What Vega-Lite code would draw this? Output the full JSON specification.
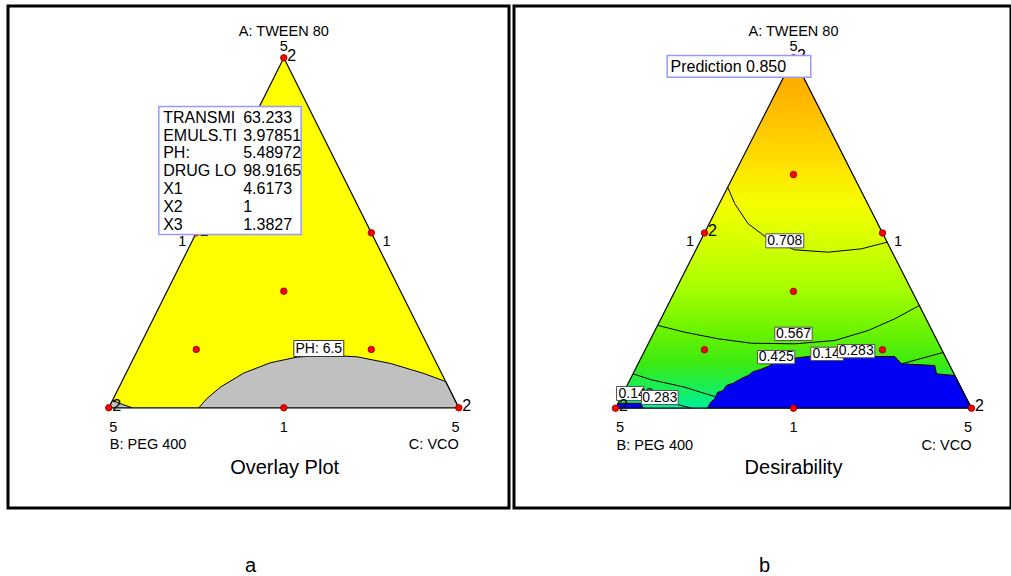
{
  "$schema": "https://vega.github.io/schema/vega-lite/v6.json",
  "padding": {"left": 6, "top": 4, "right": 0, "bottom": 0},
  "spacing": 1,
  "background": "white",
  "config": {
    "view": {"stroke": "black", "strokeWidth": 3},
    "axis": {"disable": true},
    "font": "Liberation Sans",
    "text": {"font": "Liberation Sans", "color": "black", "baseline": "middle"}
  },
  "datasets": {
    "tri": [{"x": 0, "y": 0}, {"x": 0.5, "y": 1}, {"x": 1, "y": 0}],
    "edge": [{"i": 0, "x": 0, "y": 0}, {"i": 1, "x": 0.5, "y": 1}, {"i": 2, "x": 1, "y": 0}, {"i": 3, "x": 0, "y": 0}],
    "design": [
      {"x": 0.5, "y": 1}, {"x": 0, "y": 0}, {"x": 1, "y": 0}, {"x": 0.25, "y": 0.5}, {"x": 0.75, "y": 0.5},
      {"x": 0.5, "y": 0}, {"x": 0.5, "y": 0.3333}, {"x": 0.5, "y": 0.6667}, {"x": 0.25, "y": 0.1667}, {"x": 0.75, "y": 0.1667}
    ],
    "reps": [{"x": 0.5, "y": 1, "t": "2"}, {"x": 0, "y": 0, "t": "2"}, {"x": 1, "y": 0, "t": "2"}, {"x": 0.25, "y": 0.5, "t": "2"}],
    "centerLabels": [
      {"x": 0.5, "y": 1.0731, "t": "A: TWEEN 80"},
      {"x": 0.5, "y": 1.0303, "t": "5"},
      {"x": 0.2097, "y": 0.4731, "t": "1"},
      {"x": 0.7934, "y": 0.4731, "t": "1"},
      {"x": 0.0126, "y": -0.0571, "t": "5"},
      {"x": 0.5, "y": -0.0571, "t": "1"},
      {"x": 0.9906, "y": -0.0571, "t": "5"}
    ],
    "labB": [{"x": 0.0029, "y": -0.1077, "t": "B: PEG 400"}],
    "labC": [{"x": 1, "y": -0.1077, "t": "C: VCO"}],
    "titleA": [{"x": 0.5023, "y": -0.1706, "t": "Overlay Plot"}],
    "titleB": [{"x": 0.5, "y": -0.1692, "t": "Desirability"}],
    "grayA": [
      {"g": "main", "x": 0.2571, "y": 0}, {"g": "main", "x": 0.2806, "y": 0.0266}, {"g": "main", "x": 0.3186, "y": 0.0589},
      {"g": "main", "x": 0.3854, "y": 0.0991}, {"g": "main", "x": 0.4614, "y": 0.1287}, {"g": "main", "x": 0.5383, "y": 0.1449},
      {"g": "main", "x": 0.624, "y": 0.1504}, {"g": "main", "x": 0.7097, "y": 0.1456}, {"g": "main", "x": 0.8049, "y": 0.1267},
      {"g": "main", "x": 0.9, "y": 0.0981}, {"g": "main", "x": 0.9625, "y": 0.075}, {"g": "main", "x": 1, "y": 0},
      {"g": "corner", "x": 0, "y": 0}, {"g": "corner", "x": 0.0105, "y": 0.021}, {"g": "corner", "x": 0.03, "y": 0.013}, {"g": "corner", "x": 0.0669, "y": 0}
    ],
    "boxPH": [{"x": 0.5286, "x2": 0.6714, "y": 0.1466, "y2": 0.1923}],
    "textPH": [{"x": 0.6, "y": 0.1694, "t": "PH: 6.5"}],
    "boxTip": [{"x": 0.1429, "x2": 0.5497, "y": 0.4951, "y2": 0.8609}],
    "tip": [
      {"x": 0.1554, "y": 0.8286, "k": "TRANSMI", "v": "63.233"},
      {"x": 0.1554, "y": 0.776, "k": "EMULS.TI", "v": "3.97851"},
      {"x": 0.1554, "y": 0.7274, "k": "PH:", "v": "5.48972"},
      {"x": 0.1554, "y": 0.676, "k": "DRUG LO", "v": "98.9165"},
      {"x": 0.1554, "y": 0.6257, "k": "X1", "v": "4.6173"},
      {"x": 0.1554, "y": 0.5731, "k": "X2", "v": "1"},
      {"x": 0.1554, "y": 0.5209, "k": "X3", "v": "1.3827"}
    ],
    "blueB": [
      {"g": "main", "x": 0.2584, "y": 0}, {"g": "main", "x": 0.2669, "y": 0.0163}, {"g": "main", "x": 0.2789, "y": 0.0268},
      {"g": "main", "x": 0.2865, "y": 0.0448}, {"g": "main", "x": 0.3025, "y": 0.0505}, {"g": "main", "x": 0.3118, "y": 0.0648},
      {"g": "main", "x": 0.3306, "y": 0.0713}, {"g": "main", "x": 0.3539, "y": 0.0847}, {"g": "main", "x": 0.3728, "y": 0.0933},
      {"g": "main", "x": 0.3876, "y": 0.1047}, {"g": "main", "x": 0.4053, "y": 0.1096}, {"g": "main", "x": 0.4289, "y": 0.119},
      {"g": "main", "x": 0.4466, "y": 0.1304}, {"g": "main", "x": 0.4663, "y": 0.1312}, {"g": "main", "x": 0.4831, "y": 0.1418},
      {"g": "main", "x": 0.5037, "y": 0.1427}, {"g": "main", "x": 0.5413, "y": 0.1475}, {"g": "main", "x": 0.7846, "y": 0.1475},
      {"g": "main", "x": 0.7921, "y": 0.1389}, {"g": "main", "x": 0.8034, "y": 0.1267}, {"g": "main", "x": 0.8969, "y": 0.1218},
      {"g": "main", "x": 0.9017, "y": 0.0981}, {"g": "main", "x": 0.9534, "y": 0.0933}, {"g": "main", "x": 1, "y": 0},
      {"g": "corner", "x": 0, "y": 0}, {"g": "corner", "x": 0.008, "y": 0.014}, {"g": "corner", "x": 0.07, "y": 0.014}, {"g": "corner", "x": 0.078, "y": 0}
    ],
    "contB": [
      {"c": "708", "x": 0.3153, "y": 0.6305}, {"c": "708", "x": 0.3351, "y": 0.5832}, {"c": "708", "x": 0.3728, "y": 0.5261},
      {"c": "708", "x": 0.4289, "y": 0.4833}, {"c": "708", "x": 0.5037, "y": 0.4519}, {"c": "708", "x": 0.5975, "y": 0.4451},
      {"c": "708", "x": 0.691, "y": 0.4548}, {"c": "708", "x": 0.7632, "y": 0.4736},
      {"c": "567", "x": 0.1199, "y": 0.236}, {"c": "567", "x": 0.1947, "y": 0.2168}, {"c": "567", "x": 0.2885, "y": 0.198},
      {"c": "567", "x": 0.382, "y": 0.1854}, {"c": "567", "x": 0.5037, "y": 0.1837}, {"c": "567", "x": 0.616, "y": 0.1932},
      {"c": "567", "x": 0.7098, "y": 0.2217}, {"c": "567", "x": 0.7846, "y": 0.2551}, {"c": "567", "x": 0.8534, "y": 0.293},
      {"c": "425L", "x": 0.0492, "y": 0.0981}, {"c": "425L", "x": 0.1011, "y": 0.081}, {"c": "425L", "x": 0.1947, "y": 0.0599},
      {"c": "425L", "x": 0.2416, "y": 0.0448}, {"c": "425L", "x": 0.2789, "y": 0.0334},
      {"c": "425R", "x": 0.8034, "y": 0.1267}, {"c": "425R", "x": 0.9205, "y": 0.1589},
      {"c": "283L", "x": 0.1742, "y": 0.0106}, {"c": "283L", "x": 0.2135, "y": 0}
    ],
    "box14": [
      {"x": 0.5486, "x2": 0.64, "y": 0.1361, "y2": 0.174},
      {"x": 0.0028, "x2": 0.08, "y": 0.022, "y2": 0.0619}
    ],
    "text14": [
      {"x": 0.5534, "y": 0.1552, "t": "0.142"},
      {"x": 0.0084, "y": 0.0419, "t": "0.142"}
    ],
    "boxLab": [
      {"x": 0.4222, "x2": 0.5289, "y": 0.4575, "y2": 0.4976},
      {"x": 0.4475, "x2": 0.5525, "y": 0.1932, "y2": 0.2311},
      {"x": 0.3989, "x2": 0.5037, "y": 0.1267, "y2": 0.1646},
      {"x": 0.6236, "x2": 0.7284, "y": 0.1438, "y2": 0.1817},
      {"x": 0.073, "x2": 0.1761, "y": 0.0106, "y2": 0.0505}
    ],
    "textLab": [
      {"x": 0.4756, "y": 0.4776, "t": "0.708"},
      {"x": 0.5, "y": 0.2123, "t": "0.567"},
      {"x": 0.4514, "y": 0.1455, "t": "0.425"},
      {"x": 0.676, "y": 0.1626, "t": "0.283"},
      {"x": 0.1244, "y": 0.0305, "t": "0.283"}
    ],
    "boxPred": [{"x": 0.1452, "x2": 0.5486, "y": 0.9444, "y2": 1.0063}],
    "textPred": [{"x": 0.1545, "y": 0.9735, "t": "Prediction 0.850"}]
  },
  "hconcat": [
    {
      "width": 501,
      "height": 502,
      "title": {"text": "a", "orient": "bottom", "anchor": "middle", "offset": 64, "dx": -8, "fontSize": 20, "fontWeight": "normal", "font": "Liberation Sans", "color": "black", "baseline": "alphabetic"},
      "encoding": {
        "x": {"field": "x", "type": "quantitative", "scale": {"domain": [-0.288, 1.1434], "nice": false, "zero": false}},
        "y": {"field": "y", "type": "quantitative", "scale": {"domain": [-0.2863, 1.148], "nice": false, "zero": false}}
      },
      "layer": [
        {"data": {"name": "tri"}, "mark": {"type": "area", "color": "#ffff00"}, "encoding": {"y2": {"datum": 0}}},
        {"data": {"name": "grayA"}, "mark": {"type": "area", "color": "#c0c0c0"}, "encoding": {"y2": {"datum": 0}, "detail": {"field": "g"}}},
        {"data": {"name": "grayA"}, "mark": {"type": "line", "color": "black", "strokeWidth": 1}, "encoding": {"detail": {"field": "g"}}},
        {"data": {"name": "edge"}, "mark": {"type": "line", "color": "black", "strokeWidth": 1.2}, "encoding": {"order": {"field": "i", "type": "quantitative"}}},
        {"data": {"name": "design"}, "mark": {"type": "point", "filled": true, "fill": "#ff0000", "stroke": "#7a0000", "strokeWidth": 0.8, "size": 42, "opacity": 1}},
        {"data": {"name": "reps"}, "mark": {"type": "text", "fontSize": 16, "dx": 8, "dy": -2, "align": "center"}, "encoding": {"text": {"field": "t"}}},
        {"data": {"name": "centerLabels"}, "mark": {"type": "text", "fontSize": 14.5, "align": "center"}, "encoding": {"text": {"field": "t"}}},
        {"data": {"name": "labB"}, "mark": {"type": "text", "fontSize": 14.5, "align": "left"}, "encoding": {"text": {"field": "t"}}},
        {"data": {"name": "labC"}, "mark": {"type": "text", "fontSize": 14.5, "align": "right"}, "encoding": {"text": {"field": "t"}}},
        {"data": {"name": "titleA"}, "mark": {"type": "text", "fontSize": 20, "align": "center"}, "encoding": {"text": {"field": "t"}}},
        {"data": {"name": "boxPH"}, "mark": {"type": "rect", "fill": "white", "stroke": "#333333", "strokeWidth": 1}, "encoding": {"x2": {"field": "x2"}, "y2": {"field": "y2"}}},
        {"data": {"name": "textPH"}, "mark": {"type": "text", "fontSize": 14, "align": "center"}, "encoding": {"text": {"field": "t"}}},
        {"data": {"name": "boxTip"}, "mark": {"type": "rect", "fill": "white", "stroke": "#9999ff", "strokeWidth": 1.5}, "encoding": {"x2": {"field": "x2"}, "y2": {"field": "y2"}}},
        {"data": {"name": "tip"}, "mark": {"type": "text", "fontSize": 16, "align": "left"}, "encoding": {"text": {"field": "k"}}},
        {"data": {"name": "tip"}, "mark": {"type": "text", "fontSize": 16, "align": "left", "dx": 80}, "encoding": {"text": {"field": "v"}}}
      ]
    },
    {
      "width": 497,
      "height": 502,
      "title": {"text": "b", "orient": "bottom", "anchor": "middle", "offset": 64, "dx": 2, "fontSize": 20, "fontWeight": "normal", "font": "Liberation Sans", "color": "black", "baseline": "alphabetic"},
      "encoding": {
        "x": {"field": "x", "type": "quantitative", "scale": {"domain": [-0.2851, 1.111], "nice": false, "zero": false}},
        "y": {"field": "y", "type": "quantitative", "scale": {"domain": [-0.2847, 1.1475], "nice": false, "zero": false}}
      },
      "layer": [
        {"data": {"name": "tri"}, "mark": {"type": "area", "color": {"gradient": "linear", "x1": 0, "y1": 0, "x2": 0, "y2": 1, "stops": [
          {"offset": 0, "color": "#ffa000"},
          {"offset": 0.15, "color": "#ffbe00"},
          {"offset": 0.3, "color": "#ffe000"},
          {"offset": 0.42, "color": "#f4ff00"},
          {"offset": 0.52, "color": "#d8ff00"},
          {"offset": 0.65, "color": "#aaff00"},
          {"offset": 0.77, "color": "#70f400"},
          {"offset": 0.87, "color": "#3cea10"},
          {"offset": 0.95, "color": "#14ee60"},
          {"offset": 1, "color": "#00f0a0"}]}}, "encoding": {"y2": {"datum": 0}}},
        {"data": {"name": "blueB"}, "mark": {"type": "area", "color": "#0000f5"}, "encoding": {"y2": {"datum": 0}, "detail": {"field": "g"}}},
        {"data": {"name": "blueB"}, "mark": {"type": "line", "color": "black", "strokeWidth": 1}, "encoding": {"detail": {"field": "g"}}},
        {"data": {"name": "contB"}, "mark": {"type": "line", "color": "black", "strokeWidth": 1}, "encoding": {"detail": {"field": "c"}}},
        {"data": {"name": "edge"}, "mark": {"type": "line", "color": "black", "strokeWidth": 1.2}, "encoding": {"order": {"field": "i", "type": "quantitative"}}},
        {"data": {"name": "box14"}, "mark": {"type": "rect", "fill": "white", "stroke": "#555555", "strokeWidth": 1}, "encoding": {"x2": {"field": "x2"}, "y2": {"field": "y2"}}},
        {"data": {"name": "text14"}, "mark": {"type": "text", "fontSize": 14, "align": "left"}, "encoding": {"text": {"field": "t"}}},
        {"data": {"name": "boxLab"}, "mark": {"type": "rect", "fill": "white", "stroke": "#555555", "strokeWidth": 1}, "encoding": {"x2": {"field": "x2"}, "y2": {"field": "y2"}}},
        {"data": {"name": "textLab"}, "mark": {"type": "text", "fontSize": 14, "align": "center"}, "encoding": {"text": {"field": "t"}}},
        {"data": {"name": "design"}, "mark": {"type": "point", "filled": true, "fill": "#ff0000", "stroke": "#7a0000", "strokeWidth": 0.8, "size": 42, "opacity": 1}},
        {"data": {"name": "reps"}, "mark": {"type": "text", "fontSize": 16, "dx": 8, "dy": -2, "align": "center"}, "encoding": {"text": {"field": "t"}}},
        {"data": {"name": "centerLabels"}, "mark": {"type": "text", "fontSize": 14.5, "align": "center"}, "encoding": {"text": {"field": "t"}}},
        {"data": {"name": "labB"}, "mark": {"type": "text", "fontSize": 14.5, "align": "left"}, "encoding": {"text": {"field": "t"}}},
        {"data": {"name": "labC"}, "mark": {"type": "text", "fontSize": 14.5, "align": "right"}, "encoding": {"text": {"field": "t"}}},
        {"data": {"name": "titleB"}, "mark": {"type": "text", "fontSize": 20, "align": "center"}, "encoding": {"text": {"field": "t"}}},
        {"data": {"name": "boxPred"}, "mark": {"type": "rect", "fill": "white", "stroke": "#9999ff", "strokeWidth": 1.5}, "encoding": {"x2": {"field": "x2"}, "y2": {"field": "y2"}}},
        {"data": {"name": "textPred"}, "mark": {"type": "text", "fontSize": 16, "align": "left"}, "encoding": {"text": {"field": "t"}}}
      ]
    }
  ]
}
